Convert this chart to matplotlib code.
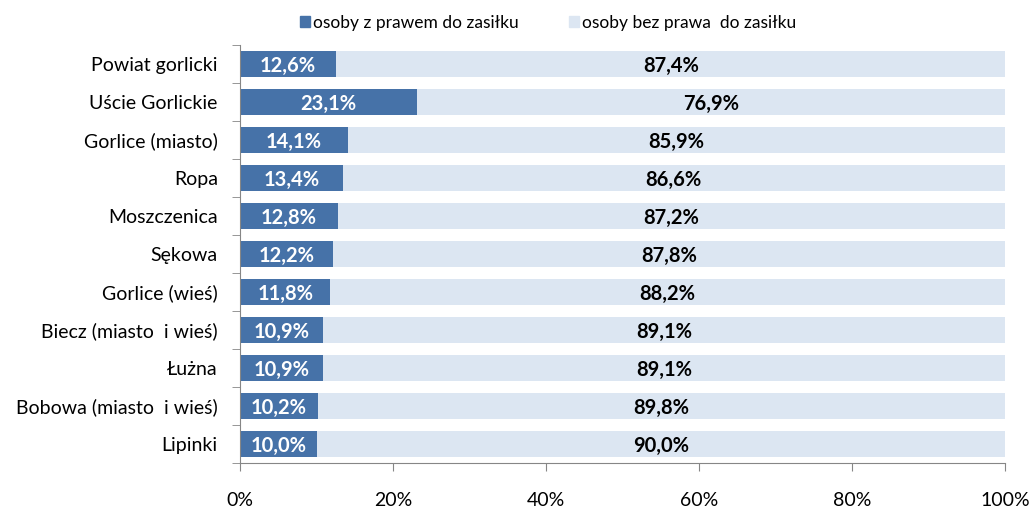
import numpy as np
import matplotlib
matplotlib.use('Agg')
import matplotlib.pyplot as plt
from matplotlib.patches import Patch

categories = ["Powiat gorlicki", "Uście Gorlickie", "Gorlice (miasto)", "Ropa",
              "Moszczenica", "Sękowa", "Gorlice (wieś)", "Biecz (miasto  i wieś)",
              "Łużna", "Bobowa (miasto  i wieś)", "Lipinki"]
z_prawem = [12.6, 23.1, 14.1, 13.4, 12.8, 12.2, 11.8, 10.9, 10.9, 10.2, 10.0]
bez_prawa = [87.4, 76.9, 85.9, 86.6, 87.2, 87.8, 88.2, 89.1, 89.1, 89.8, 90.0]
series_names = ["osoby z prawem do zasiłku", "osoby bez prawa  do zasiłku"]

DARK = "#4672A8"
LIGHT = "#DCE6F2"
AXIS = "#868686"

plt.rcParams['font.family'] = ['Lato', 'DejaVu Sans']

fig = plt.figure(figsize=(10.32, 5.11), dpi=100)
ax = fig.add_axes([0.2326, 0.0939, 0.7412, 0.8181])

y = np.arange(len(categories))
h = 0.66
ax.barh(y, z_prawem, height=h, color=DARK)
ax.barh(y, bez_prawa, left=z_prawem, height=h, color=LIGHT)

for i in range(len(categories)):
    a, b = z_prawem[i], bez_prawa[i]
    ax.text(a / 2, i + 0.04, f"{a:.1f}%".replace(".", ","), ha="center", va="center",
            color="white", fontsize=14.5, fontweight="bold")
    ax.text(a + b / 2, i + 0.04, f"{b:.1f}%".replace(".", ","), ha="center", va="center",
            color="black", fontsize=14.5, fontweight="bold")

ax.set_xlim(0, 100)
ax.set_ylim(len(categories) - 0.5, -0.5)
ax.set_xticks(np.arange(0, 101, 20))
ax.set_xticklabels([f"{v}%" for v in range(0, 101, 20)], fontsize=14)
ax.set_yticks(y)
ax.set_yticklabels(categories, fontsize=14)
ax.set_yticks(np.arange(-0.5, len(categories), 1), minor=True)
ax.tick_params(axis="y", which="major", length=0, pad=16)
ax.tick_params(axis="y", which="minor", length=6, color=AXIS, direction="out")
ax.tick_params(axis="x", length=6, color=AXIS, pad=15)

for s in ["top", "right"]:
    ax.spines[s].set_visible(False)
ax.spines["left"].set_color(AXIS)
ax.spines["bottom"].set_color(AXIS)

handles = [Patch(color=DARK), Patch(color=LIGHT)]
fig.legend(handles, series_names, loc="center", bbox_to_anchor=(0.531, 0.955),
           ncol=2, frameon=False, fontsize=12.5, handlelength=0.6, handleheight=0.6,
           handletextpad=0.15, columnspacing=2.9)

fig.savefig("out.png", dpi=100)
